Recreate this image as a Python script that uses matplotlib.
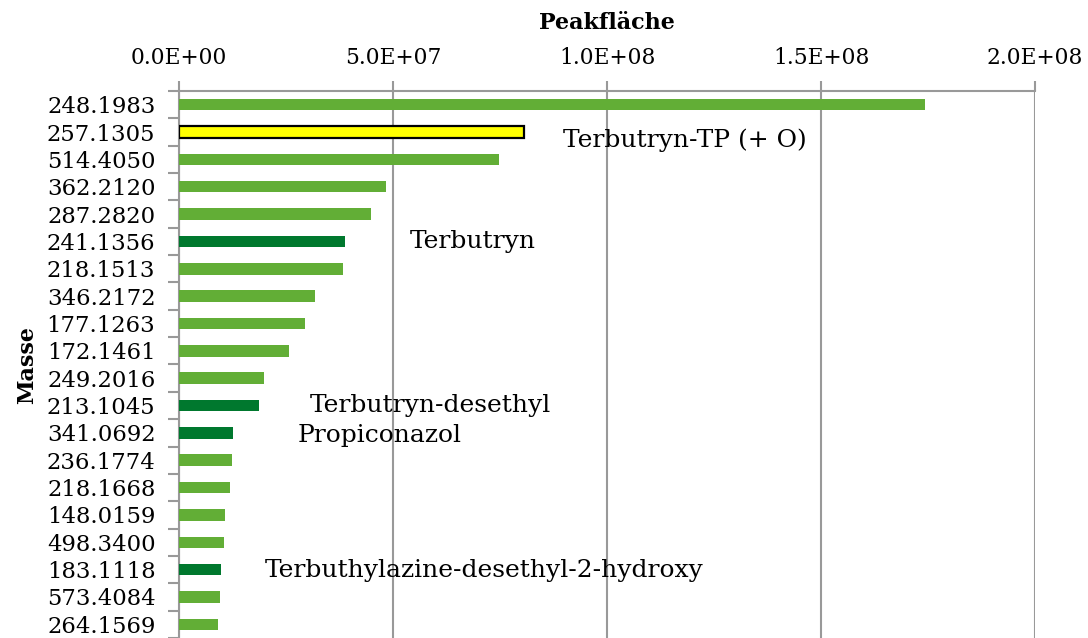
import matplotlib
matplotlib.use("Agg")
import matplotlib.pyplot as plt
from matplotlib.ticker import FixedLocator, FuncFormatter

# Masses (m/z) of the detected features, ordered by peak area
masses = ["248.1983", "257.1305", "514.4050", "362.2120", "287.2820",
          "241.1356", "218.1513", "346.2172", "177.1263", "172.1461",
          "249.2016", "213.1045", "341.0692", "236.1774", "218.1668",
          "148.0159", "498.3400", "183.1118", "573.4084", "264.1569"]

# Peak areas
peak_areas = [1.744e8, 8.05e7, 7.47e7, 4.83e7, 4.48e7,
              3.88e7, 3.83e7, 3.18e7, 2.94e7, 2.57e7,
              1.98e7, 1.87e7, 1.27e7, 1.24e7, 1.19e7,
              1.07e7, 1.05e7, 0.98e7, 0.96e7, 0.91e7]

# Feature type: "u" unknown, "i" identified substance, "tp" transformation product
kinds = ["u", "tp", "u", "u", "u",
         "i", "u", "u", "u", "u",
         "u", "i", "i", "u", "u",
         "u", "u", "i", "u", "u"]

# Names of identified compounds and the row they refer to
compound_names = ["Terbutryn-TP (+ O)", "Terbutryn", "Terbutryn-desethyl",
                  "Propiconazol", "Terbuthylazine-desethyl-2-hydroxy"]
compound_rows = [1, 5, 11, 12, 17]

x_ticks = [0, 5e7, 1e8, 1.5e8, 2e8]

# --- styling ---
LIGHT = "#62AE36"
DARK = "#00782E"
TP_FACE = "#FFFF00"
GRID = "#999999"
label_offsets = {  # (x position in data units, vertical offset in rows)
    "Terbutryn-TP (+ O)": (8.97e7, 0.29),
    "Terbutryn": (5.4e7, 0.0),
    "Terbutryn-desethyl": (3.06e7, 0.0),
    "Propiconazol": (2.76e7, 0.1),
    "Terbuthylazine-desethyl-2-hydroxy": (2.01e7, 0.05),
}

plt.rcParams["font.family"] = ["DejaVu Serif"]

fig = plt.figure(figsize=(10.88, 6.38), dpi=100)
ax = fig.add_axes([179 / 1088, 0.0, (1035 - 179) / 1088, 1 - 91 / 638])

ypos = list(range(len(masses)))
for y, v, k in zip(ypos, peak_areas, kinds):
    if k == "tp":
        ax.barh(y, v, height=0.42, color=TP_FACE, edgecolor="black",
                linewidth=1.6, zorder=3)
    else:
        ax.barh(y, v, height=0.42, color=DARK if k == "i" else LIGHT,
                linewidth=0, zorder=3)

ax.set_ylim(len(masses) - 0.5, -0.5)
ax.set_xlim(0, 2e8)

# x axis on top
ax.xaxis.set_ticks_position("top")
ax.xaxis.set_label_position("top")
ax.set_xticks(x_ticks)
ax.xaxis.set_major_formatter(FuncFormatter(lambda v, p: "{:.1E}".format(v)))
ax.tick_params(axis="x", which="major", length=7, width=1.5, color=GRID,
               pad=9, labelsize=15.7)
ax.grid(axis="x", color=GRID, linewidth=1.5, zorder=0)

# y axis: category labels with ticks between categories
ax.set_yticks(ypos)
ax.set_yticklabels(masses)
ax.yaxis.set_minor_locator(FixedLocator([i - 0.5 for i in range(len(masses) + 1)]))
ax.tick_params(axis="y", which="major", length=0, pad=17, labelsize=16.4)
ax.tick_params(axis="y", which="minor", length=8, width=1.5, color=GRID)

for side in ["right", "bottom"]:
    ax.spines[side].set_visible(False)
for side in ["top", "left"]:
    ax.spines[side].set_color(GRID)
    ax.spines[side].set_linewidth(1.5)

ax.set_xlabel("Peakfläche", fontsize=16, fontweight="bold", labelpad=13)
ax.set_ylabel("Masse", fontsize=16, fontweight="bold")
ax.yaxis.set_label_coords(-0.165, 0.5)

for name, row in zip(compound_names, compound_rows):
    xo, dy = label_offsets[name]
    ax.text(xo, row + dy, name, fontsize=18, va="center", ha="left", zorder=4)

fig.savefig("out.png", dpi=100)
